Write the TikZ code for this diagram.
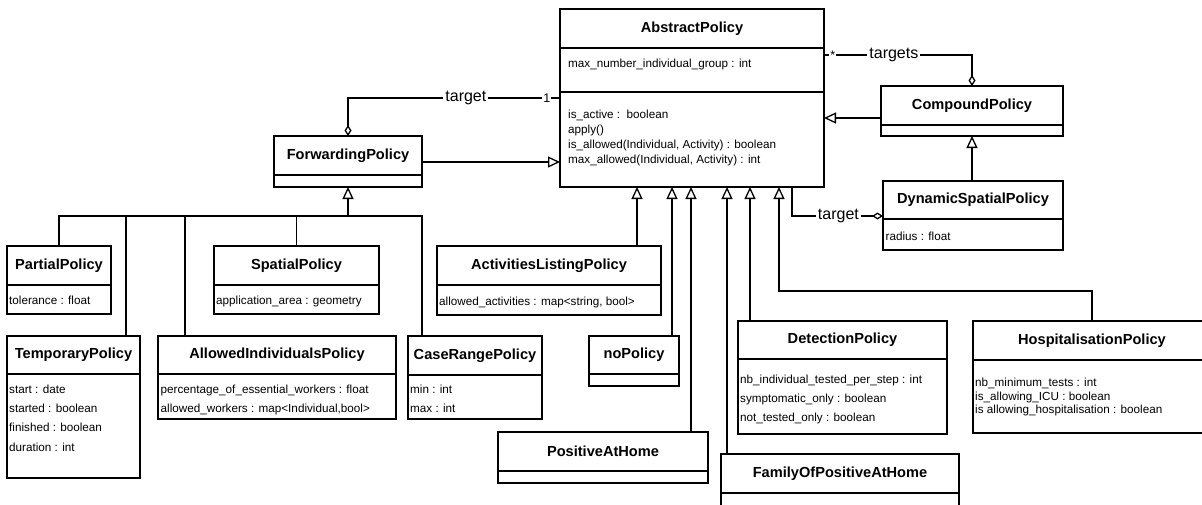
\documentclass[tikz,border=0pt]{standalone}
\usepackage{fontspec}
\setmainfont{Liberation Sans}
\usetikzlibrary{positioning}
\usetikzlibrary{arrows.meta}

\newcommand{\titlefont}{\fontsize{14.6}{17}\selectfont\bfseries}
\newcommand{\attrfont}{\fontsize{11.7}{19.3}\selectfont}
\newcommand{\edgefont}{\fontsize{16}{19}\selectfont}
\newcommand{\multfont}{\fontsize{12.5}{14}\selectfont}

\tikzset{
	classhead/.style={draw, line width=1.3pt, outer sep=0pt, anchor=north west, inner sep=0pt, font=\titlefont},
	classbody/.style={draw, line width=1.3pt, outer sep=0pt, inner sep=0pt},
	attr/.style={anchor=north west, inner sep=0pt, align=left, font=\attrfont},
	link/.style={line width=1.3pt},
	inherit/.style={link, -{Triangle[open, length=12pt, width=11pt]}},
	aggregate/.style={link, {Diamond[open, length=11pt, width=7pt]}-},
	edgelabel/.style={fill=white, inner sep=2pt, font=\edgefont},
	mult/.style={fill=white, inner sep=1pt, font=\multfont},
}

\begin{document}
\begin{tikzpicture}[x=1pt, y=-1pt]
		\useasboundingbox (0,0) rectangle (1202,504);
		\clip (0,0) rectangle (1202,504);
		% base class
		\node[classhead, minimum width=264pt, minimum height=39pt] at (560,9) (abs) {AbstractPolicy};
		\node[classbody, minimum width=264pt, minimum height=44pt, below=0pt of abs] (absa) {};
		\node[classbody, minimum width=264pt, minimum height=95pt, below=0pt of absa] (absb) {};
		\node[attr] at ([shift={(8pt,-10.5pt)}]absa.north west) {max\_number\_individual\_group : int};
		\node[attr, font=\fontsize{11.7}{15}\selectfont] at ([shift={(8pt,-17.5pt)}]absb.north west) {is\_active :\ \ boolean\\apply()\\is\_allowed(Individual, Activity) : boolean\\max\_allowed(Individual, Activity) : int};
		% compound and dynamic spatial
		\node[classhead, minimum width=182pt, minimum height=39pt] at (881,86) (cmp) {CompoundPolicy};
		\node[classbody, minimum width=182pt, minimum height=11pt, below=0pt of cmp] (cmpb) {};
		\node[classhead, minimum width=180pt, minimum height=38pt] at (883,181) (dsp) {DynamicSpatialPolicy};
		\node[classbody, minimum width=180pt, minimum height=31pt, below=0pt of dsp] (dspb) {};
		\node[attr] at ([shift={(2.5pt,-12.5pt)}]dspb.north west) {radius : float};
		% forwarding and its children
		\node[classhead, minimum width=148pt, minimum height=39pt] at (274,136) (fwd) {ForwardingPolicy};
		\node[classbody, minimum width=148pt, minimum height=12pt, below=0pt of fwd] (fwdb) {};
		\node[classhead, minimum width=104pt, minimum height=39pt] at (7,246) (par) {PartialPolicy};
		\node[classbody, minimum width=104pt, minimum height=29pt, below=0pt of par] (parb) {};
		\node[attr] at ([shift={(2pt,-11pt)}]parb.north west) {tolerance : float};
		\node[classhead, minimum width=165pt, minimum height=39pt] at (214,246) (spa) {SpatialPolicy};
		\node[classbody, minimum width=165pt, minimum height=29pt, below=0pt of spa] (spab) {};
		\node[attr] at ([shift={(2pt,-11pt)}]spab.north west) {application\_area : geometry};
		\node[classhead, minimum width=133pt, minimum height=38pt] at (7,336) (tmp) {TemporaryPolicy};
		\node[classbody, minimum width=133pt, minimum height=104pt, below=0pt of tmp] (tmpb) {};
		\node[attr] at ([shift={(2pt,-10.5pt)}]tmpb.north west) {start : date\\started : boolean\\finished : boolean\\duration : int};
		\node[classhead, minimum width=238pt, minimum height=38pt] at (158,336) (ali) {AllowedIndividualsPolicy};
		\node[classbody, minimum width=238pt, minimum height=45pt, below=0pt of ali] (alib) {};
		\node[attr] at ([shift={(2.5pt,-10.5pt)}]alib.north west) {percentage\_of\_essential\_workers : float\\allowed\_workers : map<Individual,bool>};
		\node[classhead, minimum width=134pt, minimum height=39pt] at (408,336) (crp) {CaseRangePolicy};
		\node[classbody, minimum width=134pt, minimum height=44pt, below=0pt of crp] (crpb) {};
		\node[attr] at ([shift={(2pt,-9.5pt)}]crpb.north west) {min : int\\max : int};
		% direct children of the base class
		\node[classhead, minimum width=224pt, minimum height=39pt] at (437,246) (act) {ActivitiesListingPolicy};
		\node[classbody, minimum width=224pt, minimum height=30pt, below=0pt of act] (actb) {};
		\node[attr] at ([shift={(2pt,-12pt)}]actb.north west) {allowed\_activities : map<string, bool>};
		\node[classhead, minimum width=90pt, minimum height=38pt] at (589,336) (nop) {noPolicy};
		\node[classbody, minimum width=90pt, minimum height=12pt, below=0pt of nop] (nopb) {};
		\node[classhead, minimum width=210pt, minimum height=39pt] at (498,432) (pah) {PositiveAtHome};
		\node[classbody, minimum width=210pt, minimum height=12pt, below=0pt of pah] (pahb) {};
		\node[classhead, minimum width=209pt, minimum height=38pt] at (738,321) (det) {DetectionPolicy};
		\node[classbody, minimum width=209pt, minimum height=75pt, below=0pt of det] (detb) {};
		\node[attr] at ([shift={(2pt,-15.5pt)}]detb.north west) {nb\_individual\_tested\_per\_step : int\\symptomatic\_only : boolean\\not\_tested\_only : boolean};
		\node[classhead, minimum width=238pt, minimum height=39pt] at (973,321) (hos) {HospitalisationPolicy};
		\node[classbody, minimum width=238pt, minimum height=73pt, below=0pt of hos] (hosb) {};
		\node[attr, font=\fontsize{11.7}{13.5}\selectfont] at ([shift={(2pt,-18pt)}]hosb.north west) {nb\_minimum\_tests : int\\is\_allowing\_ICU : boolean\\is allowing\_hospitalisation : boolean};
		\node[classhead, minimum width=238pt, minimum height=39pt] at (721,454) (fam) {FamilyOfPositiveAtHome};
		\node[classbody, minimum width=238pt, minimum height=22pt, below=0pt of fam] (famb) {};
		% aggregations
		\coordinate (cmptgt) at ([yshift=-7pt]absa.north east);
		\draw[aggregate] (cmp.north) |- node[edgelabel, pos=0.764] {targets} node[mult, pos=0.97] {*} (cmptgt);
		\coordinate (fwdtgt) at ([yshift=-6pt]absb.north west);
		\draw[aggregate] (fwd.north) |- node[edgelabel, pos=0.778] {target} node[mult, pos=0.969] {1} (fwdtgt);
		\coordinate (dsptgt) at ([yshift=-35pt]dsp.north west);
		\draw[aggregate] (dsptgt) -| node[edgelabel, pos=0.245] {target} (absb.south -| 792,0);
		% generalisations
		\coordinate (fwdout) at ([yshift=-26pt]fwd.north east);
		\draw[inherit] (fwdout) -- (fwdout -| absb.west);
		\coordinate (cmpout) at ([yshift=-32pt]cmp.north west);
		\draw[inherit] (cmpout) -- (cmpout -| absb.east);
		\draw[inherit] (dsp.north -| cmpb.south) -- (cmpb.south);
		\coordinate (actin) at ([xshift=-24pt]act.north east);
		\draw[inherit] (actin) -- (actin |- absb.south);
		\coordinate (nopin) at ([xshift=-7pt]nop.north east);
		\draw[inherit] (nopin) -- (nopin |- absb.south);
		\coordinate (pahin) at ([xshift=-17pt]pah.north east);
		\draw[inherit] (pahin) -- (pahin |- absb.south);
		\coordinate (famin) at ([xshift=6pt]fam.north west);
		\draw[inherit] (famin) -- (famin |- absb.south);
		\coordinate (detin) at ([xshift=12pt]det.north west);
		\draw[inherit] (detin) -- (detin |- absb.south);
		\coordinate (hosbend) at ([yshift=30pt]hos.north);
		\draw[inherit] (hos.north) -- (hosbend) -| (absb.south -| 779,0);
		% forwarding bus
		\coordinate (bus) at ([yshift=-29pt]fwdb.south);
		\draw[inherit] (bus) -- (fwdb.south);
		\draw[link] (par.north) |- (bus) -| (crp.north -| fwd.east);
		\draw[link] (spa.north) -- (spa.north |- bus);
		\coordinate (tmpin) at ([xshift=119pt]tmp.north west);
		\draw[link] (tmpin) -- (tmpin |- bus);
		\coordinate (aliin) at ([xshift=27pt]ali.north west);
		\draw[link] (aliin) -- (aliin |- bus);
	\end{tikzpicture}
\end{document}
